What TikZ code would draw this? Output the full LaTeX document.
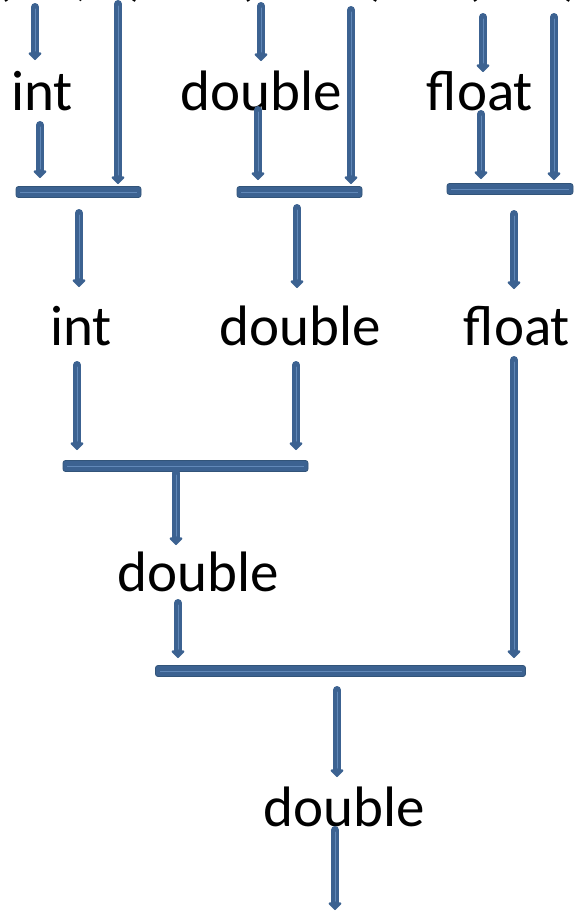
\documentclass[tikz,border=0pt]{standalone}
\usepackage{fontspec}
\setmainfont{Carlito}
\usetikzlibrary{arrows.meta}
\definecolor{flow}{HTML}{3C6291}
\definecolor{flowdark}{HTML}{325479}
\definecolor{flowlight}{HTML}{6188B8}
\tikzset{
  arr/.style={draw=flow, line width=8pt, line cap=round,
    -{Triangle[width=15pt,length=8pt,round]},
    postaction={draw=flowlight, line width=1pt, -, shorten >=9pt, shorten <=2pt}},
  barbox/.style={rectangle, fill=flow, draw=flowdark, line width=0.8pt,
    rounded corners=2.5pt, minimum height=11pt, inner sep=0pt,
    path picture={\draw[flowlight, line width=1pt]
      ([xshift=4pt]path picture bounding box.west) --
      ([xshift=-4pt]path picture bounding box.east);}},
  lbl/.style={anchor=base, inner sep=0pt, font=\fontsize{57}{60}\selectfont},
}
\begin{document}
\begin{tikzpicture}[x=1pt,y=1pt]
\useasboundingbox (0,0) rectangle (576,-913);

% tails of the expression line above
\foreach \gx/\gc [count=\i] in {3/(,83/{,},138/),245/(,379/),472/(,572/)}
  \node[lbl] (top\i) at (\gx,5.5) {\gc};

% type labels
\node[lbl] (int1) at (42,-110) {int};
\node[lbl] (dbl1) at (261,-110) {double};
\node[lbl] (flt1) at (480,-110) {float};
\node[lbl] (int2) at (81,-345) {int};
\node[lbl] (dbl2) at (300,-345) {double};
\node[lbl] (flt2) at (517,-345) {float};
\node[lbl] (dbl3) at (198,-591) {double};
\node[lbl] (dbl4) at (344,-826) {double};

% combining bars
\node[barbox, minimum width=125pt] (bar1) at (78.5,-192) {};
\node[barbox, minimum width=125pt] (bar2) at (299.5,-192) {};
\node[barbox, minimum width=126pt] (bar3) at (510,-189) {};
\node[barbox, minimum width=245pt] (bar4) at (185.5,-466) {};
\node[barbox, minimum width=370pt] (bar5) at (340.5,-671) {};

% arrow end points
\coordinate (a1s) at (35,-7);    \coordinate (a1e) at (35,-60);
\coordinate (l1s) at (118,-4);   \coordinate (l1e) at (118,-184);
\coordinate (a2s) at (261,-6);   \coordinate (a2e) at (261,-61);
\coordinate (l2s) at (351,-10);  \coordinate (l2e) at (351,-184);
\coordinate (a3s) at (483,-17);  \coordinate (a3e) at (483,-72);
\coordinate (l3s) at (554,-17);  \coordinate (l3e) at (554,-180);
\coordinate (b1s) at (40,-125);  \coordinate (b1e) at (40,-178);
\coordinate (b2s) at (258,-110); \coordinate (b2e) at (258,-180);
\coordinate (b3s) at (481,-114); \coordinate (b3e) at (481,-179);
\coordinate (c1s) at (79,-213);  \coordinate (c1e) at (79,-287);
\coordinate (c2s) at (297,-208); \coordinate (c2e) at (297,-288);
\coordinate (c3s) at (514,-214); \coordinate (c3e) at (514,-289);
\coordinate (d1s) at (77,-365);  \coordinate (d1e) at (77,-450);
\coordinate (d2s) at (296,-365); \coordinate (d2e) at (296,-450);
\coordinate (d3s) at (514,-360); \coordinate (d3e) at (514,-658);
\coordinate (e1s) at (176,-473); \coordinate (e1e) at (176,-545);
\coordinate (f1s) at (178,-603); \coordinate (f1e) at (178,-658);
\coordinate (g1s) at (337,-690); \coordinate (g1e) at (337,-777);
\coordinate (h1s) at (335,-830); \coordinate (h1e) at (335,-910);

% arrows
\foreach \a in {a1,l1,a2,l2,a3,l3,b1,b2,b3,c1,c2,c3,d1,d2,d3,e1,f1,g1,h1}
  \draw[arr] (\a s) -- (\a e);
\end{tikzpicture}
\end{document}
